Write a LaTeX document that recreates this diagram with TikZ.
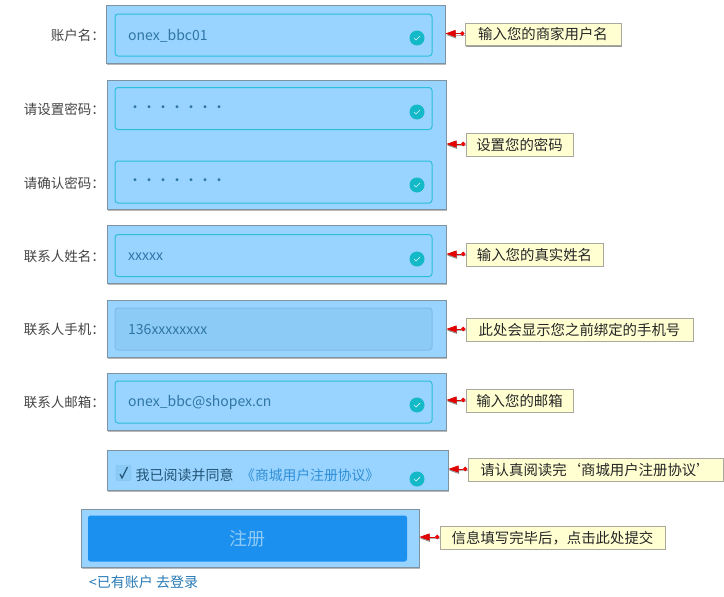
\documentclass[tikz,border=0pt]{standalone}
\usepackage{fontspec}
\setmainfont{Noto Sans CJK SC}
\usetikzlibrary{shadows,arrows.meta,calc}
\definecolor{panelfill}{HTML}{99D3FF}
\definecolor{panelline}{HTML}{7F929F}
\definecolor{inputline}{HTML}{2BBFD8}
\definecolor{inputgrey}{HTML}{8CCBF6}
\definecolor{inputgreyline}{HTML}{7FBDE6}
\definecolor{inputtext}{HTML}{2F76A6}
\definecolor{labeltext}{HTML}{444444}
\definecolor{okteal}{HTML}{14B9C8}
\definecolor{notefill}{HTML}{FFFFD2}
\definecolor{noteline}{HTML}{A8A8A0}
\definecolor{btnblue}{HTML}{1C90EE}
\definecolor{btntext}{HTML}{8FCBF6}
\definecolor{linkblue}{HTML}{2F8FD6}
\tikzset{
  panel/.style={draw=panelline,line width=1pt,fill=panelfill,inner sep=0pt,
    drop shadow={shadow xshift=0.8pt,shadow yshift=-1.5pt,fill=black,opacity=.28}},
  inputbox/.style={draw=inputline,line width=1pt,fill=panelfill,rounded corners=3pt,inner sep=0pt,
    minimum width=317pt,minimum height=42pt},
  greybox/.style={inputbox,draw=inputgreyline,fill=inputgrey},
  valuetext/.style={anchor=west,inner sep=0pt,text=inputtext,font=\fontsize{14}{16}\selectfont},
  fieldlabel/.style={anchor=east,inner sep=0pt,text=labeltext,font=\fontsize{13.5}{16}\selectfont},
  okmark/.style={circle,fill=okteal,minimum size=15pt,inner sep=0pt},
  notebox/.style={draw=noteline,line width=1pt,fill=notefill,inner sep=0pt,minimum height=22.5pt,
    text=black!85,font=\fontsize{14.4}{16}\selectfont,
    drop shadow={shadow xshift=1pt,shadow yshift=-1.2pt,fill=black,opacity=.4}},
  pointer/.style={draw=red!85!black,line width=.6pt,
    {Triangle[length=10pt,width=7pt,fill=red!90!black]}-{Circle[length=4.5pt,fill=red]}},
}
\newcommand{\okcheck}[1]{\draw[white,line width=.7pt,opacity=.85]
  ($(#1.center)+(-3,0)$) -- ($(#1.center)+(-1,2)$) -- ($(#1.center)+(3,-2)$);}
\begin{document}
\begin{tikzpicture}[x=1pt,y=-1pt]
\useasboundingbox (0,0) rectangle (724,597);
\fill[white] (0,0) rectangle (724,597);
% panels
\node[panel,minimum width=339pt,minimum height=58pt] (p1) at (275.5,34.5) {};
\node[panel,minimum width=339pt,minimum height=129pt] (p2) at (276.5,144.5) {};
\node[panel,minimum width=339pt,minimum height=58pt] (p3) at (276.5,254.5) {};
\node[panel,minimum width=339pt,minimum height=57pt] (p4) at (276.5,328.5) {};
\node[panel,minimum width=339pt,minimum height=57pt] (p5) at (276.5,401.5) {};
\node[panel,minimum width=341pt,minimum height=40pt] (p6) at (277.5,470) {};
\node[panel,minimum width=338pt,minimum height=58pt] (p7) at (250,538) {};
% inputs
\node[inputbox] (i1) at (273.5,35) {};
\node[inputbox] (i2) at (273.5,108.5) {};
\node[inputbox] (i3) at (273.5,182) {};
\node[inputbox] (i4) at (273.5,255.5) {};
\node[greybox] (i5) at (273.5,329) {};
\node[inputbox] (i6) at (273.5,402) {};
\node[fill=btnblue,rounded corners=2.5pt,inner sep=0pt,minimum width=319pt,minimum height=46pt,
  text=btntext,font=\fontsize{18}{20}\selectfont] (btn) at (247.5,538.5) {注册};
% values
\node[valuetext] (v1) at (128,35.5) {onex\_bbc01};
\node[valuetext] (v2) at (128,109) {•••••••};
\node[valuetext] (v3) at (128,182.5) {•••••••};
\node[valuetext] (v4) at (128,256.5) {xxxxx};
\node[valuetext] (v5) at (128,329.5) {136xxxxxxxx};
\node[valuetext] (v6) at (128,402.5) {onex\_bbc@shopex.cn};
% labels
\node[fieldlabel] (l1) at (105,35.5) {账户名：};
\node[fieldlabel] (l2) at (105,109.5) {请设置密码：};
\node[fieldlabel] (l3) at (105,183) {请确认密码：};
\node[fieldlabel] (l4) at (105,256.5) {联系人姓名：};
\node[fieldlabel] (l5) at (105,329.5) {联系人手机：};
\node[fieldlabel] (l6) at (105,402.5) {联系人邮箱：};
% ok marks
\node[okmark] (k1) at (417,38) {}; \okcheck{k1}
\node[okmark] (k2) at (417,112) {}; \okcheck{k2}
\node[okmark] (k3) at (417,185) {}; \okcheck{k3}
\node[okmark] (k4) at (417,259) {}; \okcheck{k4}
\node[okmark] (k6) at (417,405) {}; \okcheck{k6}
\node[okmark] (k7) at (417,479) {}; \okcheck{k7}
% agreement row
\node[draw=inputgreyline,fill=inputgrey,rounded corners=2pt,inner sep=0pt,minimum size=15pt] (cb) at (123.5,473) {};
\draw[inputtext!75!black,line width=1.2pt] ($(cb.center)+(-3.5,1)$) -- ($(cb.center)+(-1.5,5)$) -- ($(cb.center)+(4,-6)$);
\node[anchor=west,inner sep=0pt,text=inputtext!70!black,font=\fontsize{14}{16}\selectfont] (agree) at (135.5,475) {我已阅读并同意};
\node[anchor=west,inner sep=0pt,text=linkblue,font=\fontsize{13.8}{16}\selectfont] (lnk) at (241,475) {《商城用户注册协议》};
\node[anchor=west,inner sep=0pt,text=linkblue!85!black,font=\fontsize{14}{16}\selectfont] (back) at (89,582) {<已有账户 去登录};
% notes
\node[notebox,minimum width=156pt] (n1) at (543,34.5) {输入您的商家用户名};
\node[notebox,minimum width=107pt] (n2) at (519.5,145) {设置您的密码};
\node[notebox,minimum width=137pt] (n3) at (534.5,255) {输入您的真实姓名};
\node[notebox,minimum width=227pt] (n4) at (579.5,330) {此处会显示您之前绑定的手机号};
\node[notebox,minimum width=107pt] (n5) at (519.5,401) {输入您的邮箱};
\node[notebox,minimum width=255pt] (n6) at (595.5,470) {请认真阅读完‘商城用户注册协议’};
\node[notebox,minimum width=225pt] (n7) at (552.5,538) {信息填写完毕后，点击此处提交};
% connectors
\foreach \n/\p/\dy in {n1/p1/0,n2/p2/0,n3/p3/0,n4/p4/0,n5/p5/0,n6/p6/0,n7/p7/0}{
  \coordinate (a\n) at ($(\n.west)+(0,-1)$);
  \draw[black,opacity=.3,line width=.6pt,-{Triangle[length=10pt,width=7pt]}] ($(a\n)+(0,1.5)$) -- ($(\p.east |- a\n)+(0.7,1.5)$);
  \draw[pointer] (\p.east |- a\n) -- (a\n);
}
\end{tikzpicture}
\end{document}
